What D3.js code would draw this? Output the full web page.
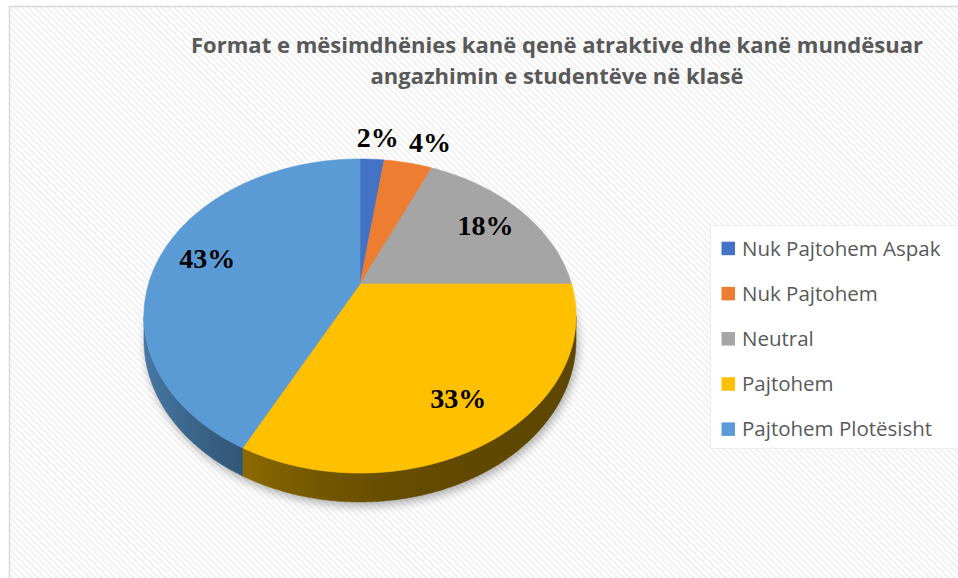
<!DOCTYPE html>
<html>
<head>
<meta charset="utf-8">
<script src="https://cdn.jsdelivr.net/npm/d3@7"></script>
<style>
  body { margin: 0; background: #fff; }
  svg { display: block; }
</style>
</head>
<body>
<div id="chart"></div>
<script>
// Chart data
// --------------------------------------------------------------------------------------------
const titleLines = [
    "Format e mësimdhënies kanë qenë atraktive dhe kanë mundësuar",
    "angazhimin e studentëve në klasë"
]
const categories = ["Nuk Pajtohem Aspak", "Nuk Pajtohem", "Neutral", "Pajtohem", "Pajtohem Plotësisht"]
// shares in percent (labels show them rounded)
const shares = [2.2, 4.4, 18.4, 32.5, 42.5]
const colours = ["#4472c4", "#ed7d31", "#a5a5a5", "#ffc000", "#5b9bd5"]

const width = 958, height = 578

// 3D pie geometry: perspective squash of a flat disc
const cx = 360, cy = 284       // screen position of the disc centre
const rx = 211.5, ry = 150.5   // half axes before perspective
const persp = 0.204            // how much nearer parts grow
const depth = 23               // thickness of the disc

function project(angle, r, h) {
    let u = r * Math.sin(angle)
    let v = -r * Math.cos(angle)
    let w = 1 / (1 - persp * v)
    return [cx + rx * u * w, cy + ry * v * w + h * w]
}

function arcPoints(a0, a1, r, h) {
    let n = Math.max(2, Math.ceil((a1 - a0) / 0.01))
    return d3.range(n + 1).map(i => project(a0 + (a1 - a0) * i / n, r, h))
}

let svg = d3.select("#chart").append("svg")
    .attr("width", width)
    .attr("height", height)

let defs = svg.append("defs")

// Diagonal stripe background like the Office chart style
let pattern = defs.append("pattern")
    .attr("id", "stripes")
    .attr("patternUnits", "userSpaceOnUse")
    .attr("width", 4.5)
    .attr("height", 4.5)
    .attr("patternTransform", "rotate(-45)")
pattern.append("rect").attr("width", 4.5).attr("height", 4.5).attr("fill", "#ffffff")
pattern.append("rect").attr("width", 2).attr("height", 4.5).attr("fill", "#f1f1f1")

let blur = defs.append("filter").attr("id", "shadow")
    .attr("x", "-20%").attr("y", "-20%").attr("width", "140%").attr("height", "140%")
blur.append("feGaussianBlur").attr("stdDeviation", 5)

// Chart area frame
svg.append("rect")
    .attr("x", 9.5).attr("y", 6.5)
    .attr("width", 980).attr("height", 620)
    .attr("fill", "url(#stripes)")
    .attr("stroke", "#d9d9d9")
    .attr("stroke-width", 1.5)

// Title
svg.append("g").selectAll("text")
    .data(titleLines)
    .join("text")
    .attr("x", 557)
    .attr("y", (d, i) => 53 + i * 31)
    .attr("text-anchor", "middle")
    .attr("textLength", (d, i) => i == 0 ? 732 : 373)
    .attr("lengthAdjust", "spacingAndGlyphs")
    .style("font-family", "'Open Sans', 'DejaVu Sans', sans-serif")
    .style("font-weight", "bold")
    .style("font-size", "22px")
    .style("fill", "#595959")
    .text(d => d)

// Pie
// --------------------------------------------------------------------------------------------
let arcs = d3.pie().sort(null).value(d => d)(shares)

let gPie = svg.append("g").attr("id", "pie")

// soft shadow under the disc
let outline = arcPoints(0, 2 * Math.PI, 1, depth)
gPie.append("path")
    .attr("d", d3.line()(outline) + "Z")
    .attr("transform", "translate(2,4)")
    .style("fill", "#000")
    .style("opacity", 0.3)
    .attr("filter", "url(#shadow)")

// side walls, visible only on the front half
let aRight = Math.acos(-persp)
let aLeft = 2 * Math.PI - aRight
let xLeft = project(aLeft, 1, 0)[0]
let xRight = project(aRight, 1, 0)[0]
let shade = t => 0.37 + 0.4 * Math.pow(1 - t, 3)

let gWalls = gPie.append("g").attr("id", "walls")
arcs.forEach((s, i) => {
    let a0 = Math.max(s.startAngle, aRight)
    let a1 = Math.min(s.endAngle, aLeft)
    if (a0 >= a1) return

    let grad = defs.append("linearGradient")
        .attr("id", "wall" + i)
        .attr("gradientUnits", "userSpaceOnUse")
        .attr("x1", xLeft).attr("x2", xRight)
        .attr("y1", 0).attr("y2", 0)
    grad.selectAll("stop")
        .data(d3.range(0, 1.01, 0.1))
        .join("stop")
        .attr("offset", t => t)
        .attr("stop-color", t => {
            let c = d3.rgb(colours[i])
            let k = shade(t)
            return d3.rgb(c.r * k, c.g * k, c.b * k).formatHex()
        })

    let pts = arcPoints(a0, a1, 1, 0).concat(arcPoints(a0, a1, 1, depth).reverse())
    gWalls.append("path")
        .attr("d", d3.line()(pts) + "Z")
        .style("fill", "url(#wall" + i + ")")
        .style("stroke", "url(#wall" + i + ")")
        .style("stroke-width", 0.5)
})

// top faces
gPie.append("g").attr("id", "tops")
    .selectAll("path")
    .data(arcs)
    .join("path")
    .attr("d", s => d3.line()([project(0, 0, 0)].concat(arcPoints(s.startAngle, s.endAngle, 1, 0))) + "Z")
    .style("fill", (s, i) => colours[i])
    .style("stroke", (s, i) => colours[i])
    .style("stroke-width", 0.6)

// data labels: inside for big slices, outside (pushed off the rim) for the thin ones
gPie.append("g").attr("id", "labels")
    .selectAll("text")
    .data(arcs)
    .join("text")
    .each(function(s) {
        let mid = (s.startAngle + s.endAngle) / 2
        let p
        if (s.data > 10) {
            p = project(mid, 0.77, 0)
        } else {
            let rim = project(mid, 1, 0)
            p = [rim[0] + 80 * Math.sin(mid), rim[1] - 22 * Math.cos(mid)]
        }
        d3.select(this).attr("x", p[0]).attr("y", p[1])
    })
    .attr("dy", "0.35em")
    .attr("text-anchor", "middle")
    .style("font-family", "'Liberation Serif', 'Times New Roman', serif")
    .style("font-weight", "bold")
    .style("font-size", "28px")
    .style("fill", "#000")
    .text(s => Math.round(s.data) + "%")

// Legend
// --------------------------------------------------------------------------------------------
let legendY = d3.scalePoint().domain(categories).range([248.7, 429.4])

let gLegend = svg.append("g").attr("id", "legend")
gLegend.append("rect")
    .attr("x", 710.5).attr("y", 225.5)
    .attr("width", 270).attr("height", 223)
    .style("fill", "#ffffff")
    .style("stroke", "#eeeeee")

let items = gLegend.selectAll("g.item")
    .data(categories)
    .join("g")
    .attr("class", "item")
    .attr("transform", d => "translate(0," + legendY(d) + ")")

items.append("rect")
    .attr("x", 721.5).attr("y", -7)
    .attr("width", 13.5).attr("height", 13.5)
    .style("fill", (d, i) => colours[i])

items.append("text")
    .attr("x", 742)
    .attr("y", 7)
    .style("font-family", "'Open Sans', 'DejaVu Sans', sans-serif")
    .style("font-size", "20.5px")
    .style("fill", "#595959")
    .text(d => d)
</script>
</body>
</html>
